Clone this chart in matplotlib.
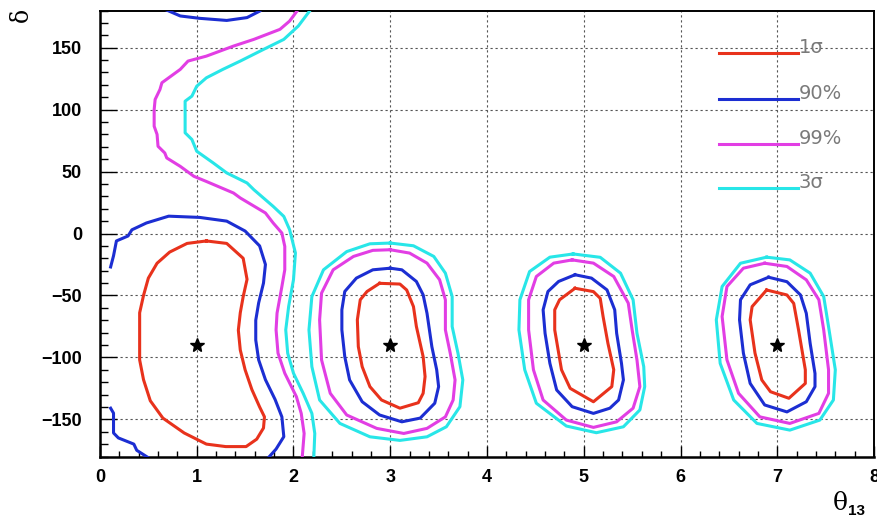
import matplotlib.pyplot as plt
from matplotlib.ticker import MultipleLocator

# allowed regions in the (theta13, delta) plane, one list of points per contour piece
red_1 = [(1.10, -6), (1.31, -8), (1.48, -20), (1.52, -37), (1.48, -51), (1.45, -64), (1.43, -78),
         (1.45, -94), (1.50, -110), (1.57, -126), (1.65, -140), (1.70, -148), (1.69, -157),
         (1.62, -166), (1.51, -172), (1.30, -172), (1.10, -170), (0.87, -161), (0.65, -149),
         (0.52, -135), (0.45, -118), (0.41, -102), (0.41, -80), (0.41, -64), (0.45, -50),
         (0.50, -36), (0.59, -24), (0.72, -15), (0.90, -8), (1.10, -6)]
red_3 = [(2.89, -40.2), (3.10, -40.8), (3.17, -45.6), (3.24, -59), (3.27, -75), (3.34, -99.4),
         (3.36, -115.5), (3.34, -129), (3.29, -136.6), (3.10, -141), (2.91, -134.4), (2.79, -123.6),
         (2.71, -107.5), (2.67, -91.3), (2.66, -69.7), (2.69, -53.5), (2.76, -46.8), (2.89, -40.2)]
red_5 = [(4.91, -44.2), (5.10, -46.9), (5.17, -52.3), (5.20, -67.1), (5.25, -88.7), (5.31, -110),
         (5.29, -123.6), (5.10, -135.8), (4.86, -125), (4.77, -110), (4.70, -77.8), (4.70, -61.6),
         (4.75, -53.5), (4.91, -44.2)]
red_7 = [(6.89, -45.6), (7.10, -49.6), (7.17, -56.4), (7.22, -77.8), (7.29, -110), (7.29, -121),
         (7.12, -133), (6.93, -127.7), (6.84, -118.2), (6.77, -96.6), (6.72, -69.7), (6.74, -59),
         (6.89, -45.6)]

blue_top = [(0.67, 181), (0.83, 175.6), (1.03, 173.7), (1.31, 172), (1.52, 174.3), (1.65, 179.5)]
blue_left = [(0.11, -27), (0.14, -18), (0.17, -6), (0.29, -2), (0.33, 3), (0.48, 8.5), (0.71, 14),
             (1.03, 13), (1.31, 10), (1.50, 2), (1.65, -10), (1.71, -25), (1.69, -40), (1.64, -56),
             (1.61, -70), (1.61, -86), (1.64, -102), (1.71, -118), (1.81, -134), (1.88, -148),
             (1.90, -164), (1.82, -174), (1.74, -181)]
blue_corner = [(0.11, -141), (0.14, -145), (0.14, -161), (0.19, -165), (0.35, -170), (0.38, -175),
               (0.50, -181)]
blue_3 = [(3.0, -28), (3.12, -29.3), (3.27, -38.7), (3.34, -49.5), (3.38, -64.4), (3.43, -91.3),
          (3.48, -110), (3.50, -123.6), (3.46, -137), (3.31, -149), (3.12, -152), (2.89, -146.5),
          (2.71, -135.8), (2.58, -118.2), (2.53, -99.4), (2.50, -77.8), (2.50, -61.6), (2.53, -46.8),
          (2.65, -36), (2.82, -29.3), (3.0, -28)]
blue_5 = [(4.91, -33.3), (5.08, -36), (5.24, -45.5), (5.32, -61.6), (5.34, -80.5), (5.39, -104.8),
          (5.41, -118.2), (5.36, -134.4), (5.27, -141), (5.10, -145.2), (4.88, -139.8), (4.72, -126.3),
          (4.65, -104.8), (4.60, -80.5), (4.58, -61.6), (4.63, -46.8), (4.74, -38.7), (4.91, -33.3)]
blue_7 = [(6.91, -35.3), (7.10, -38.9), (7.24, -49.6), (7.30, -64.4), (7.34, -88.7), (7.39, -113),
          (7.39, -123.6), (7.30, -135.8), (7.10, -144), (6.87, -138.4), (6.72, -121), (6.65, -96.6),
          (6.61, -69.7), (6.62, -53.5), (6.72, -41.4), (6.91, -35.3)]

magenta_band = [(2.05, 181), (1.96, 171.5), (1.86, 164.8), (1.59, 156.7), (1.38, 151.3), (1.10, 143.2),
                (0.91, 139.2), (0.83, 132.5), (0.64, 121.7), (0.62, 116.3), (0.57, 108.2), (0.56, 100),
                (0.56, 86.6), (0.59, 80), (0.60, 70.4), (0.67, 65), (0.69, 61), (0.83, 54.2),
                (0.97, 46.2), (1.10, 42), (1.38, 32.7), (1.45, 28.7), (1.71, 16.6), (1.79, 8.5),
                (1.88, 0.4), (1.91, -10.4), (1.91, -29.3), (1.88, -42.8), (1.83, -64.3), (1.82, -77.8),
                (1.84, -96.6), (1.91, -112.8), (2.03, -131.7), (2.08, -145.2), (2.11, -161.4), (2.09, -181)]
magenta_3 = [(3.0, -13.1), (3.20, -15.8), (3.38, -23.9), (3.51, -37.3), (3.57, -53.5), (3.57, -77.8),
             (3.62, -96.6), (3.67, -118.2), (3.65, -134.4), (3.57, -148), (3.38, -157.3), (3.14, -161.4),
             (2.86, -157.3), (2.55, -146.5), (2.38, -129), (2.29, -102), (2.27, -69.7), (2.29, -48.1),
             (2.41, -29.3), (2.62, -18.5), (2.82, -13.6), (3.0, -13.1)]
magenta_5 = [(4.88, -21.3), (5.10, -23.9), (5.31, -34.7), (5.46, -56.2), (5.50, -77.8), (5.55, -102),
             (5.58, -123.6), (5.51, -141), (5.34, -152), (5.10, -156.5), (4.82, -150.6), (4.58, -134.4),
             (4.48, -110), (4.43, -77.8), (4.43, -53.5), (4.51, -34.7), (4.69, -23.9), (4.88, -21.3)]
magenta_7 = [(6.87, -24), (7.10, -26.6), (7.30, -37.4), (7.43, -53.5), (7.48, -77.8), (7.53, -110),
             (7.53, -129), (7.43, -145.2), (7.13, -153.3), (6.82, -148), (6.60, -129), (6.48, -102),
             (6.43, -67), (6.48, -42.8), (6.65, -28), (6.87, -24)]

cyan_band = [(2.18, 181), (2.05, 167.5), (1.90, 156.7), (1.69, 148.6), (1.45, 139.2), (1.27, 132.5),
             (1.10, 125.7), (1.00, 118.9), (0.95, 110.9), (0.88, 106.8), (0.88, 81.3), (0.95, 75.9),
             (1.00, 66.4), (1.17, 57), (1.31, 48.9), (1.52, 40.8), (1.59, 35.4), (1.71, 27.3),
             (1.79, 21.9), (1.90, 13.8), (1.96, 3.1), (2.02, -15.7), (2.00, -37.3), (1.95, -58.9),
             (1.92, -77.8), (1.94, -96.6), (2.00, -112.8), (2.10, -129), (2.19, -145.2), (2.22, -161.4),
             (2.21, -181)]
cyan_3 = [(3.0, -7.7), (3.24, -9.9), (3.45, -18.5), (3.57, -32), (3.64, -50.9), (3.64, -75.1),
          (3.70, -96.6), (3.75, -118.2), (3.72, -139.8), (3.58, -156), (3.38, -164.1), (3.10, -167),
          (2.79, -164.1), (2.48, -153.3), (2.27, -134.4), (2.19, -107.5), (2.16, -77.8), (2.19, -50.9),
          (2.31, -29.3), (2.55, -14.6), (2.79, -8.3), (3.0, -7.7)]
cyan_5 = [(4.89, -16.5), (5.17, -19.2), (5.38, -32), (5.51, -53.5), (5.55, -80.5), (5.62, -107.5),
          (5.63, -123.6), (5.58, -142.4), (5.41, -156), (5.13, -160.8), (4.82, -155.4), (4.51, -137),
          (4.39, -110), (4.33, -77.8), (4.34, -53.5), (4.44, -30.7), (4.65, -19.1), (4.89, -16.5)]
cyan_7 = [(6.89, -19.1), (7.13, -21.3), (7.34, -32), (7.48, -50.9), (7.53, -75.1), (7.60, -110),
          (7.58, -134.4), (7.44, -150.6), (7.13, -158.7), (6.79, -153.3), (6.55, -134.4), (6.41, -104.8),
          (6.37, -69.7), (6.43, -42.8), (6.62, -24), (6.89, -19.1)]

# true (input) points
best_theta = [1, 3, 5, 7]
best_delta = [-90, -90, -90, -90]

levels = ["1σ", "90%", "99%", "3σ"]
colors = ["#e8321c", "#1c2ed2", "#e23ee4", "#28e6e8"]
curves = [
    [red_1, red_3, red_5, red_7],
    [blue_top, blue_left, blue_corner, blue_3, blue_5, blue_7],
    [magenta_band, magenta_3, magenta_5, magenta_7],
    [cyan_band, cyan_3, cyan_5, cyan_7],
]

fig = plt.figure(figsize=(8.77, 5.21), dpi=100)
ax = fig.add_axes([0.114, 0.1238, 0.8826, 0.856])

for lev, col, pieces in zip(levels, colors, curves):
    for pts in pieces:
        xs = [p[0] for p in pts]
        ys = [p[1] for p in pts]
        ax.plot(xs, ys, color=col, lw=2.2, solid_joinstyle="round", zorder=3)

ax.plot(best_theta, best_delta, ls="none", marker="*", ms=10, color="black", zorder=4)

ax.set_xlim(0, 8)
ax.set_ylim(-180, 180)
ax.xaxis.set_major_locator(MultipleLocator(1))
ax.xaxis.set_minor_locator(MultipleLocator(0.2))
ax.yaxis.set_major_locator(MultipleLocator(50))
ax.yaxis.set_minor_locator(MultipleLocator(10))
ax.grid(True, which="major", color="#555555", lw=0.8, ls=(0, (2, 2.5)), zorder=1)

tick_font = {"family": "Liberation Sans", "weight": "bold", "size": 13}
ax.tick_params(axis="both", which="both", direction="in", top=False, right=False, width=1)
ax.tick_params(axis="x", which="major", length=8, pad=9)
ax.tick_params(axis="x", which="minor", length=4)
ax.tick_params(axis="y", which="major", length=12, pad=13)
ax.tick_params(axis="y", which="minor", length=6)
for lab in ax.get_xticklabels() + ax.get_yticklabels():
    lab.set_fontproperties(tick_font)

for side in ["left", "bottom"]:
    ax.spines[side].set_linewidth(1.8)
for side in ["top", "right"]:
    ax.spines[side].set_linewidth(1.4)

# legend keys drawn inside the frame
key_y = [0.904, 0.802, 0.701, 0.602]
for lev, col, ky in zip(levels, colors, key_y):
    ax.plot([0.80, 0.902], [ky, ky], color=col, lw=2.2, transform=ax.transAxes, zorder=5)
    ax.text(0.903, ky + 0.012, lev, transform=ax.transAxes, ha="left", va="center",
            fontsize=14, color="#7a7a7a", family="DejaVu Sans", zorder=5)

fig.text(21 / 877, 1 - 15 / 521, "δ", rotation=90, ha="center", va="center",
         fontsize=17, family="DejaVu Serif")
fig.text(848 / 877, 1 - 503 / 521, "θ", ha="right", va="center", fontsize=18, family="DejaVu Serif")
fig.text(848 / 877, 1 - 511 / 521, "13", ha="left", va="center", fontsize=11,
         family="Liberation Sans", weight="bold")

fig.savefig("out.png", dpi=100)
